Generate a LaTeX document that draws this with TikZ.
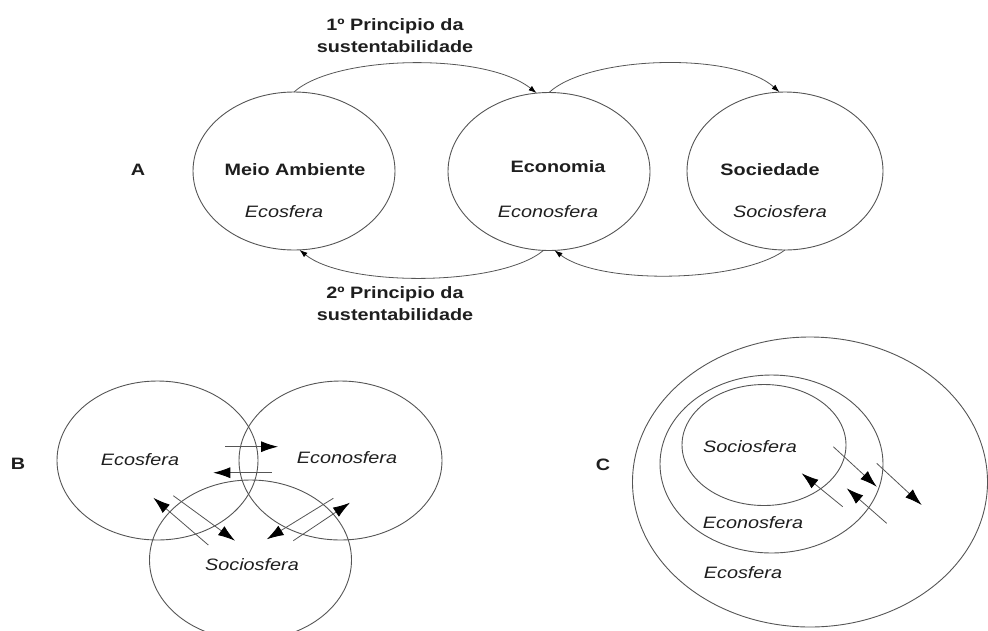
\documentclass[tikz,border=0pt]{standalone}
\usepackage{fontspec}
\usepackage{graphicx}
\setmainfont{Liberation Sans}
\usetikzlibrary{shapes.geometric,arrows.meta}
\definecolor{ink}{HTML}{1E1E1E}
\definecolor{rim}{HTML}{555555}
% the lettering is set slightly wide
\newcommand\wide[1]{\scalebox{1.2}[1]{#1}}
\begin{document}
\begin{tikzpicture}[x=1pt,y=-1pt,
  sphere/.style={ellipse, draw=rim, line width=0.9pt, inner sep=0pt, outer sep=0pt},
  headtxt/.style={font=\bfseries\fontsize{16.5}{22}\selectfont, text=ink, align=center, inner sep=0pt},
  subtxt/.style={font=\itshape\fontsize{16.5}{20}\selectfont, text=ink, inner sep=0pt},
  flow/.style={draw=rim, line width=0.8pt, -{Latex[length=8pt,width=5.5pt,color=black]}},
  push/.style={draw=rim, line width=0.8pt, -{Latex[length=17pt,width=11pt,color=black]}}
]
\useasboundingbox (0,0) rectangle (988,630);

% ---------- A: the three spheres in a row ----------
\node[headtxt] (la) at (138,170) {\wide{A}};
\node[sphere, minimum width=202pt, minimum height=158pt] (meio) at (294,171) {};
\node[sphere, minimum width=202pt, minimum height=158pt] (econ) at (549,171.5) {};
\node[sphere, minimum width=196pt, minimum height=158pt] (soci) at (785,171) {};

\node[headtxt] (tmeio) at (295,170) {\wide{Meio Ambiente}};
\node[subtxt]  (smeio) at (284,212) {\wide{Ecosfera}};
\node[headtxt] (tecon) at (558,167) {\wide{Economia}};
\node[subtxt]  (secon) at (548,212) {\wide{Econosfera}};
\node[headtxt] (tsoci) at (770,170) {\wide{Sociedade}};
\node[subtxt]  (ssoci) at (780,212) {\wide{Sociosfera}};

\node[headtxt] (p1) at (395,36) {\wide{1º Principio da}\\\wide{sustentabilidade}};
\node[headtxt] (p2) at (395,304) {\wide{2º Principio da}\\\wide{sustentabilidade}};

\draw[flow] (meio.north) .. controls (335,55) and (485,52) .. (econ.99);
\draw[flow] (econ.north) .. controls (590,55) and (735,52) .. (soci.94);
\draw[flow] (soci.south) .. controls (740,283) and (600,285) .. (econ.274);
\draw[flow] (econ.266) .. controls (500,287) and (345,287) .. (meio.274);

% ---------- B: overlapping spheres ----------
\node[headtxt] (lb) at (18,464) {\wide{B}};
\node[sphere, minimum width=201pt, minimum height=159pt] (be) at (157.5,460.5) {};
\node[sphere, minimum width=203pt, minimum height=159pt] (bn) at (340.5,460.5) {};
\node[sphere, minimum width=202pt, minimum height=160pt] (bs) at (250.5,560) {};

\node[subtxt] (tbe) at (140,460) {\wide{Ecosfera}};
\node[subtxt] (tbn) at (347,458) {\wide{Econosfera}};
\node[subtxt] (tbs) at (252,565) {\wide{Sociosfera}};

\coordinate (b1s) at (225,446.7);   \coordinate (b1e) at (278,446.7);
\coordinate (b2s) at (271.7,472.7); \coordinate (b2e) at (213.3,472.7);
\coordinate (b3s) at (208.3,545);   \coordinate (b3e) at (153.3,497.7);
\coordinate (b4s) at (173.3,495.7); \coordinate (b4e) at (235,540.7);
\coordinate (b5s) at (333.3,498.3); \coordinate (b5e) at (266.7,539.3);
\coordinate (b6s) at (293.3,540.7); \coordinate (b6e) at (350,502.7);
\draw[push] (b1s) -- (b1e);
\draw[push] (b2s) -- (b2e);
\draw[push] (b3s) -- (b3e);
\draw[push] (b4s) -- (b4e);
\draw[push] (b5s) -- (b5e);
\draw[push] (b6s) -- (b6e);

% ---------- C: nested spheres ----------
\node[headtxt] (lc) at (603,465) {\wide{C}};
\node[sphere, minimum width=355pt, minimum height=290pt] (co) at (810,482) {};
\node[sphere, minimum width=223pt, minimum height=178pt] (cm) at (771.5,464) {};
\node[sphere, minimum width=164pt, minimum height=121pt] (ci) at (764,445) {};

\node[subtxt] (tci) at (750,447) {\wide{Sociosfera}};
\node[subtxt] (tcm) at (753,523) {\wide{Econosfera}};
\node[subtxt] (tco) at (743,573) {\wide{Ecosfera}};

\coordinate (c1s) at (833.3,446.7); \coordinate (c1e) at (876.7,486.7);
\coordinate (c2s) at (876.7,463.3); \coordinate (c2e) at (921.7,505);
\coordinate (c3s) at (842.7,506.7); \coordinate (c3e) at (801.7,473.3);
\coordinate (c4s) at (886.7,523.3); \coordinate (c4e) at (846.7,488.3);
\draw[push] (c1s) -- (c1e);
\draw[push] (c2s) -- (c2e);
\draw[push] (c3s) -- (c3e);
\draw[push] (c4s) -- (c4e);
\end{tikzpicture}
\end{document}
